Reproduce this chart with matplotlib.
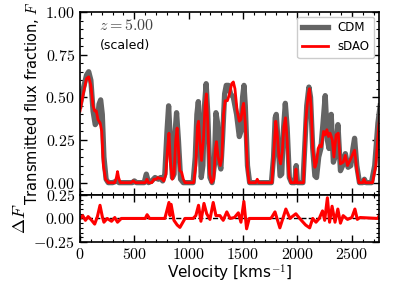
import matplotlib
matplotlib.use('Agg')
import matplotlib.pyplot as plt
from matplotlib.ticker import MultipleLocator, FuncFormatter

plt.rcParams['mathtext.fontset'] = 'cm'
plt.rcParams['font.family'] = 'DejaVu Sans'

# CDM spectrum (velocity km/s, flux)
v_cdm = [0, 30, 60, 80, 100, 120, 140, 160, 175, 190, 205, 220, 240, 260, 300, 340, 360,
         480, 500, 520, 590, 610, 630, 660, 690, 720, 740, 760, 780, 800, 815, 830, 850,
         865, 875, 888, 905, 925, 950, 1040, 1060, 1075, 1088, 1100, 1115, 1130, 1145,
         1160, 1175, 1195, 1215, 1235, 1250, 1265, 1280, 1295, 1310, 1330, 1345, 1365,
         1385, 1410, 1440, 1465, 1480, 1495, 1508, 1520, 1540, 1560, 1760, 1780, 1795,
         1805, 1820, 1840, 1855, 1870, 1888, 1905, 1925, 1945, 1975, 1988, 2000, 2050,
         2070, 2085, 2105, 2120, 2140, 2160, 2175, 2195, 2215, 2235, 2255, 2275, 2290,
         2310, 2330, 2345, 2372, 2395, 2415, 2440, 2465, 2490, 2510, 2525, 2545, 2570,
         2600, 2615, 2630, 2680, 2710, 2740, 2760]
f_cdm = [0.45, 0.55, 0.63, 0.65, 0.60, 0.42, 0.34, 0.36, 0.46, 0.485, 0.40, 0.15, 0.02, 0.0,
         0.0, 0.01, 0.0, 0.0, 0.01, 0.0, 0.0, 0.05, 0.0, 0.01, 0.03, 0.02, 0.03, 0.01, 0.05,
         0.30, 0.45, 0.25, 0.03, 0.05, 0.30, 0.41, 0.25, 0.02, 0.0, 0.0, 0.15, 0.40, 0.475,
         0.35, 0.03, 0.10, 0.45, 0.58, 0.40, 0.03, 0.0, 0.10, 0.41, 0.35, 0.12, 0.08, 0.25,
         0.52, 0.57, 0.57, 0.52, 0.50, 0.40, 0.27, 0.30, 0.50, 0.57, 0.45, 0.10, 0.0, 0.0,
         0.15, 0.38, 0.40, 0.25, 0.04, 0.05, 0.30, 0.465, 0.32, 0.03, 0.0, 0.0, 0.10, 0.0,
         0.0, 0.25, 0.45, 0.56, 0.50, 0.20, 0.04, 0.03, 0.15, 0.20, 0.35, 0.51, 0.25, 0.20,
         0.40, 0.12, 0.15, 0.34, 0.07, 0.10, 0.17, 0.09, 0.10, 0.20, 0.26, 0.10, 0.0, 0.0,
         0.02, 0.0, 0.0, 0.10, 0.35, 0.45]

# sDAO spectrum
v_sdao = [0, 30, 60, 80, 100, 120, 135, 150, 165, 185, 200, 215, 235, 260, 320, 335, 345,
          355, 370, 470, 490, 510, 600, 615, 630, 660, 680, 700, 715, 730, 750, 770, 790,
          805, 818, 832, 848, 865, 880, 893, 905, 918, 935, 950, 965, 1045, 1065, 1080,
          1090, 1105, 1118, 1135, 1150, 1162, 1175, 1192, 1210, 1230, 1245, 1255, 1270,
          1290, 1305, 1320, 1335, 1355, 1375, 1395, 1410, 1425, 1445, 1465, 1480, 1495,
          1505, 1520, 1540, 1555, 1615, 1630, 1645, 1765, 1785, 1800, 1812, 1830, 1845,
          1860, 1875, 1890, 1905, 1922, 1940, 1975, 1986, 1995, 2055, 2075, 2090, 2100,
          2110, 2125, 2140, 2160, 2175, 2190, 2205, 2220, 2240, 2255, 2270, 2285, 2300,
          2320, 2335, 2355, 2375, 2395, 2420, 2440, 2460, 2490, 2510, 2525, 2545, 2565,
          2600, 2612, 2625, 2690, 2720, 2745, 2760]
f_sdao = [0.42, 0.52, 0.61, 0.62, 0.57, 0.45, 0.42, 0.42, 0.37, 0.35, 0.30, 0.10, 0.02, 0.0,
          0.0, 0.03, 0.065, 0.03, 0.0, 0.0, 0.01, 0.0, 0.0, 0.02, 0.0, 0.0, 0.02, 0.02,
          0.03, 0.025, 0.025, 0.01, 0.05, 0.20, 0.29, 0.12, 0.02, 0.05, 0.25, 0.32, 0.20,
          0.07, 0.06, 0.02, 0.0, 0.0, 0.10, 0.33, 0.36, 0.22, 0.13, 0.25, 0.45, 0.52, 0.35,
          0.05, 0.0, 0.02, 0.20, 0.24, 0.15, 0.10, 0.15, 0.40, 0.48, 0.48, 0.52, 0.58, 0.59,
          0.55, 0.42, 0.36, 0.37, 0.44, 0.465, 0.35, 0.08, 0.0, 0.0, 0.02, 0.0, 0.0, 0.20,
          0.36, 0.30, 0.15, 0.11, 0.18, 0.33, 0.38, 0.25, 0.04, 0.0, 0.0, 0.08, 0.0, 0.0,
          0.35, 0.46, 0.52, 0.55, 0.45, 0.20, 0.09, 0.12, 0.20, 0.22, 0.21, 0.30, 0.28,
          0.31, 0.27, 0.29, 0.25, 0.15, 0.28, 0.29, 0.11, 0.12, 0.16, 0.10, 0.14, 0.17,
          0.19, 0.08, 0.0, 0.0, 0.02, 0.0, 0.0, 0.10, 0.32, 0.40]

# residual Delta F
v_res = [0, 25, 50, 75, 100, 135, 160, 184, 205, 220, 250, 290, 320, 345, 380, 600, 617,
         640, 780, 796, 818, 828, 838, 864, 894, 919, 966, 1040, 1065, 1090, 1112, 1140,
         1165, 1195, 1225, 1250, 1287, 1317, 1350, 1380, 1420, 1456, 1480, 1507, 1532,
         1556, 1750, 1762, 1793, 1838, 1893, 1930, 1985, 2020, 2075, 2112, 2140, 2170,
         2200, 2230, 2250, 2275, 2295, 2318, 2345, 2371, 2395, 2420, 2460, 2500, 2528,
         2550, 2575, 2740, 2755]
d_res = [0.0, 0.03, -0.02, 0.02, -0.01, -0.06, 0.02, 0.14, 0.02, -0.04, 0.0, -0.03, 0.01,
         -0.04, 0.0, 0.0, 0.04, 0.0, 0.0, 0.07, 0.17, 0.03, 0.15, -0.02, -0.07, -0.095,
         0.0, 0.0, 0.03, 0.14, -0.03, 0.16, 0.05, -0.01, 0.17, 0.03, 0.03, -0.02, 0.07,
         0.0, 0.01, 0.06, -0.04, 0.18, -0.11, 0.0, 0.0, 0.01, 0.07, -0.1, 0.1, 0.0, 0.05,
         0.0, -0.07, -0.1, 0.0, -0.04, 0.0, 0.08, -0.02, 0.22, -0.04, 0.13, -0.04, 0.1,
         -0.05, 0.03, -0.01, 0.01, 0.1, -0.01, 0.01, 0.0, 0.04]

fig = plt.figure(figsize=(3.99, 2.85), dpi=100)
ax = fig.add_axes([0.2005, 0.316, 0.7495, 0.642])
axr = fig.add_axes([0.2005, 0.151, 0.7495, 0.165], sharex=ax)

ax.plot(v_cdm, f_cdm, color='#646464', lw=3.8, label='CDM', solid_joinstyle='round')
ax.plot(v_sdao, f_sdao, color='red', lw=2.0, label='sDAO', solid_joinstyle='round')
ax.set_ylim(-0.072, 1.0)
ax.set_xlim(0, 2750)

axr.axhline(0, color='black', ls='--', lw=1.0)
axr.plot(v_res, d_res, color='red', lw=2.2)
axr.set_ylim(-0.25, 0.25)

fmt = FuncFormatter(lambda x, p: r'$%.2f$' % x)
fmtx = FuncFormatter(lambda x, p: r'$%d$' % x)
for a in (ax, axr):
    a.tick_params(which='both', direction='in', top=True, right=True, labelsize=11.5)
    a.tick_params(which='major', length=5, width=1)
    a.tick_params(which='minor', length=2.5, width=0.8)
    a.xaxis.set_major_locator(MultipleLocator(500))
    a.xaxis.set_minor_locator(MultipleLocator(100))
    a.yaxis.set_major_formatter(fmt)
    for s in a.spines.values():
        s.set_linewidth(1.2)

ax.yaxis.set_major_locator(MultipleLocator(0.25))
ax.yaxis.set_minor_locator(MultipleLocator(0.05))
axr.yaxis.set_major_locator(MultipleLocator(0.25))
axr.yaxis.set_minor_locator(MultipleLocator(0.05))
ax.tick_params(labelbottom=False)
axr.xaxis.set_major_formatter(fmtx)

ax.set_ylabel('Transmitted flux fraction, $F$', fontsize=10.5, labelpad=3)
axr.set_ylabel(r'$\Delta F$', fontsize=13, labelpad=3)
axr.set_xlabel('Velocity [kms$^{-1}$]', fontsize=11, labelpad=1)

ax.text(0.065, 0.925, r'$z = 5.00$', transform=ax.transAxes, fontsize=11.5, color='#444444',
        va='center')
ax.text(0.065, 0.815, '(scaled)', transform=ax.transAxes, fontsize=9, va='center')

ax.legend(loc='upper right', fontsize=8.5, handlelength=2.2, framealpha=1,
          borderaxespad=0.4)

fig.savefig('out.png', dpi=100)
